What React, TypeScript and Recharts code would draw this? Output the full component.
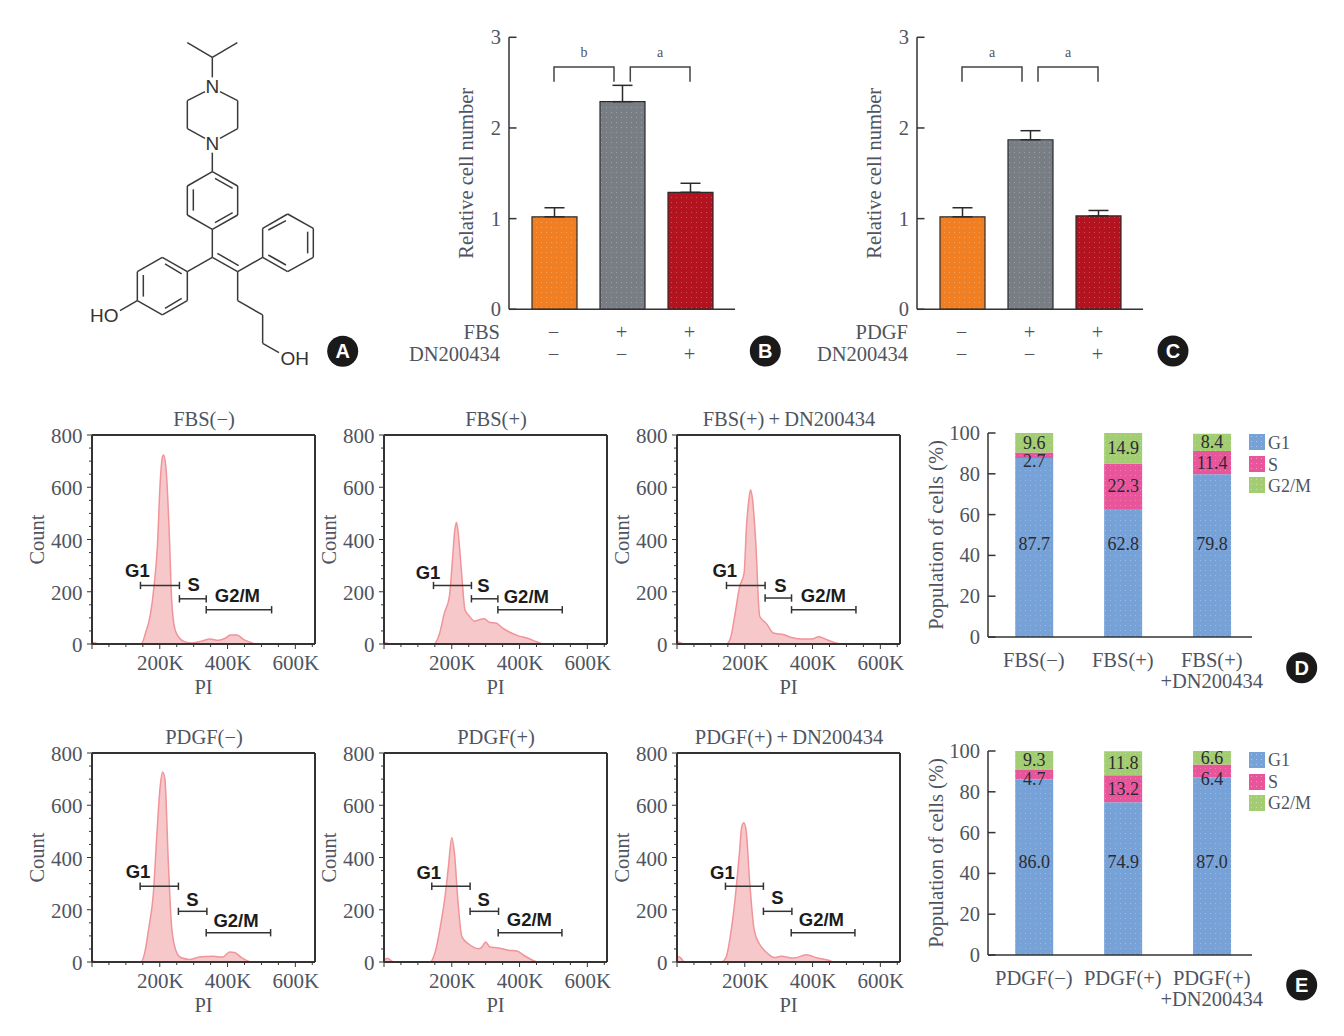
import { AreaChart, Area, BarChart, Bar, Cell, ErrorBar, LabelList, XAxis, YAxis, ReferenceLine, ReferenceDot } from 'recharts';

const SERIF = '"Liberation Serif", serif';
const SANS = '"Liberation Sans", sans-serif';
const TEXT = '#4f5460';
const AXIS = '#333333';

// Panels B and C
const treatments = ['ctrl', 'stim', 'stim+DN'];
const stimSigns = ['−', '+', '+'];
const drugSigns = ['−', '−', '+'];
const barColors = ['#ef7f22', '#797d84', '#b3131f'];
const fbsCellNumber = [1.02, 2.29, 1.29];
const fbsCellError = [0.1, 0.18, 0.1];
const pdgfCellNumber = [1.02, 1.87, 1.03];
const pdgfCellError = [0.1, 0.1, 0.06];

// Panels D and E
const fbsCategories = ['FBS(−)', 'FBS(+)', 'FBS(+)|+DN200434'];
const fbsG1 = [87.7, 62.8, 79.8];
const fbsS = [2.7, 22.3, 11.4];
const fbsG2M = [9.6, 14.9, 8.4];
const pdgfCategories = ['PDGF(−)', 'PDGF(+)', 'PDGF(+)|+DN200434'];
const pdgfG1 = [86.0, 74.9, 87.0];
const pdgfS = [4.7, 13.2, 6.4];
const pdgfG2M = [9.3, 11.8, 6.6];
const phaseColors = { G1: '#77a2d8', S: '#e9559b', G2M: '#a3cd72' };

// Flow histograms: [PI in thousands, count]
const histFbsNeg = [[0, 6], [10, 4], [20, 0], [145, 0], [158, 42], [173, 118], [183, 220], [193, 373], [201, 615], [208, 717], [211, 723], [218, 679], [228, 424], [235, 170], [245, 55], [258, 23], [273, 9], [293, 4], [323, 11], [348, 19], [373, 14], [393, 22], [408, 34], [428, 34], [448, 17], [473, 4], [483, 0], [658, 0]];
const histFbsPos = [[0, 6], [25, 0], [148, 0], [163, 36], [178, 118], [193, 182], [202, 322], [209, 437], [214, 465], [219, 424], [229, 271], [239, 131], [252, 106], [268, 87], [281, 93], [296, 97], [311, 83], [331, 80], [350, 61], [370, 46], [395, 32], [424, 22], [449, 9], [469, 0], [658, 0]];
const histFbsDn = [[0, 11], [22, 0], [145, 0], [158, 23], [170, 106], [185, 220], [198, 271], [205, 450], [212, 552], [217, 590], [223, 552], [232, 399], [244, 106], [264, 78], [284, 42], [313, 36], [338, 25], [372, 19], [397, 19], [419, 28], [441, 17], [471, 3], [486, 0], [658, 0]];
const histPdgfNeg = [[0, 4], [20, 0], [144, 0], [155, 32], [168, 134], [181, 261], [191, 478], [201, 670], [208, 727], [215, 702], [225, 389], [235, 134], [248, 42], [262, 17], [287, 10], [317, 19], [356, 22], [386, 19], [406, 38], [421, 36], [441, 17], [470, 0], [658, 0]];
const histPdgfPos = [[0, 6], [10, 14], [28, 0], [136, 0], [151, 38], [166, 134], [180, 249], [190, 364], [200, 476], [208, 415], [218, 236], [230, 96], [249, 70], [279, 51], [289, 57], [300, 77], [313, 57], [338, 54], [367, 45], [392, 42], [417, 22], [451, 1], [461, 0], [658, 0]];
const histPdgfDn = [[0, 22], [10, 17], [22, 0], [130, 0], [145, 19], [157, 96], [171, 236], [184, 415], [191, 517], [197, 533], [204, 504], [214, 313], [228, 121], [243, 70], [263, 38], [287, 17], [307, 22], [346, 15], [381, 28], [415, 15], [455, 3], [460, 0], [658, 0]];

// Gates: [name, from, to, level, label x, label y], all in axis units
type Gate = [string, number, number, number, number, number];
const gatesFbsNeg: Gate[] = [['G1', 143, 258, 224, 134, 282], ['S', 258, 337, 173, 300, 227], ['G2/M', 337, 530, 131, 429, 185]];
const gatesFbsPos: Gate[] = [['G1', 146, 258, 224, 130, 275], ['S', 258, 336, 173, 293, 223], ['G2/M', 336, 526, 131, 420, 180]];
const gatesFbsDn: Gate[] = [['G1', 146, 260, 224, 141, 282], ['S', 260, 338, 176, 305, 224], ['G2/M', 338, 528, 131, 432, 185]];
const gatesPdgfNeg: Gate[] = [['G1', 142, 255, 290, 136, 347], ['S', 255, 339, 194, 296, 241], ['G2/M', 337, 527, 112, 425, 159]];
const gatesPdgfPos: Gate[] = [['G1', 141, 254, 290, 132, 344], ['S', 254, 338, 194, 294, 240], ['G2/M', 337, 525, 112, 429, 163]];
const gatesPdgfDn: Gate[] = [['G1', 143, 255, 290, 134, 344], ['S', 255, 339, 194, 296, 247], ['G2/M', 337, 525, 112, 426, 163]];

const xMinor = [0, 50, 100, 150, 200, 250, 300, 350, 400, 450, 500, 550, 600, 650];
const yMinor = [0, 50, 100, 150, 200, 250, 300, 350, 400, 450, 500, 550, 600, 650, 700, 750, 800];

const FlowXTick = ({ x, y, payload }: any) => {
  const major = payload.value % 200 === 0;
  return (
    <g>
      <line x1={x} x2={x} y1={y} y2={y + (major ? 5 : 3)} stroke={AXIS} strokeWidth={1} />
      {major && payload.value > 0 && (
        <text x={x + 0.5} y={y + 19} textAnchor="middle" dominantBaseline="central" fontFamily={SERIF} fontSize={21} fill={TEXT}>
          {payload.value}K
        </text>
      )}
    </g>
  );
};

const FlowYTick = ({ x, y, payload }: any) => {
  const major = payload.value % 200 === 0;
  return (
    <g>
      <line x1={x} x2={x - (major ? 5 : 3)} y1={y} y2={y} stroke={AXIS} strokeWidth={1} />
      {major && (
        <text x={x - 9.5} y={y + 1.2} textAnchor="end" dominantBaseline="central" fontFamily={SERIF} fontSize={21} fill={TEXT}>
          {payload.value}
        </text>
      )}
    </g>
  );
};

const InnerYTick = ({ x, y, payload }: any) => (
  <g>
    <line x1={x} x2={x + 7.5} y1={y} y2={y} stroke={AXIS} strokeWidth={1.5} />
    <text x={x - 8} y={y} textAnchor="end" dominantBaseline="central" fontFamily={SERIF} fontSize={20.5} fill={TEXT}>
      {payload.value}
    </text>
  </g>
);

interface FlowProps {
  title: string;
  hist: number[][];
  gates: Gate[];
  left: number;
  top: number;
}

// one flow cytometry panel; left/top is the corner of the plot box on the page
function FlowPanel({ title, hist, gates, left, top }: FlowProps) {
  const data = hist.map(([pi, count]) => ({ pi, count }));
  return (
    <div style={{ position: 'absolute', left: left - 70, top: top - 30 }}>
      <AreaChart width={313} height={299} data={data} margin={{ top: 30, right: 20, left: 0, bottom: 0 }}>
        <text x={182} y={13.5} textAnchor="middle" dominantBaseline="central" fontFamily={SERIF} fontSize={20.5} fill={TEXT}>
          {title}
        </text>
        <XAxis
          dataKey="pi"
          type="number"
          domain={[0, 658]}
          ticks={xMinor}
          interval={0}
          height={60}
          tickLine={false}
          tickSize={0}
          tickMargin={0}
          tick={FlowXTick}
          axisLine={{ stroke: AXIS, strokeWidth: 2 }}
          label={{ value: 'PI', position: 'insideBottom', offset: 10, fontFamily: SERIF, fontSize: 20.5, fill: TEXT }}
        />
        <YAxis
          type="number"
          domain={[0, 800]}
          ticks={yMinor}
          interval={0}
          width={70}
          tickLine={false}
          tickSize={0}
          tickMargin={0}
          tick={FlowYTick}
          axisLine={{ stroke: AXIS, strokeWidth: 2 }}
          label={{ value: 'Count', angle: -90, position: 'insideLeft', dx: 10, textAnchor: 'middle', fontFamily: SERIF, fontSize: 20.5, fill: TEXT }}
        />
        <Area dataKey="count" type="monotone" stroke="#f0949a" strokeWidth={1.5} fill="#f7c8ca" fillOpacity={1} isAnimationActive={false} />
        <ReferenceLine y={800} stroke={AXIS} strokeWidth={2} />
        <ReferenceLine x={658} stroke={AXIS} strokeWidth={2} />
        {gates.flatMap(([name, from, to, level]) => [
          <ReferenceLine key={name + 'h'} segment={[{ x: from, y: level }, { x: to, y: level }]} stroke="#333" strokeWidth={1.5} />,
          <ReferenceLine key={name + 'a'} segment={[{ x: from, y: level - 14 }, { x: from, y: level + 14 }]} stroke="#333" strokeWidth={1.5} />,
          <ReferenceLine key={name + 'b'} segment={[{ x: to, y: level - 14 }, { x: to, y: level + 14 }]} stroke="#333" strokeWidth={1.5} />,
        ])}
        {gates.map(([name, , , , lx, ly]) => (
          <ReferenceDot
            key={name}
            x={lx}
            y={ly}
            r={0}
            shape={(p: any) => (
              <text x={p.cx} y={p.cy} textAnchor="middle" dominantBaseline="central" fontFamily={SANS} fontWeight={700} fontSize={18.5} fill="#1c1c1c">
                {name}
              </text>
            )}
          />
        ))}
      </AreaChart>
    </div>
  );
}

interface CellProps {
  stim: string;
  values: number[];
  errors: number[];
  left: number;
}

function CellNumberPanel({ stim, values, errors, left }: CellProps) {
  const data = treatments.map((name, i) => ({ name, value: values[i], err: [0, errors[i]] }));
  const SignTick = ({ x, y, index }: any) => (
    <g fontFamily={SERIF} fontSize={20.5} fill={TEXT} textAnchor="middle" dominantBaseline="central">
      <text x={x - 0.5} y={y + 22.5}>{stimSigns[index]}</text>
      <text x={x - 0.5} y={y + 44.5}>{drugSigns[index]}</text>
    </g>
  );
  return (
    <div style={{ position: 'absolute', left: left - 110, top: 20 }}>
      <BarChart width={336} height={350} data={data} margin={{ top: 17.3, right: 0, left: 0, bottom: 0 }}>
        <text x={101} y={312} textAnchor="end" dominantBaseline="central" fontFamily={SERIF} fontSize={20.5} fill={TEXT}>{stim}</text>
        <text x={101} y={334} textAnchor="end" dominantBaseline="central" fontFamily={SERIF} fontSize={20.5} fill={TEXT}>DN200434</text>
        <XAxis
          dataKey="name"
          padding={{ left: 11, right: 11 }}
          interval={0}
          height={60.7}
          tickLine={false}
          tickSize={0}
          tickMargin={0}
          tick={SignTick}
          axisLine={{ stroke: AXIS, strokeWidth: 1.5 }}
        />
        <YAxis
          type="number"
          domain={[0, 3]}
          ticks={[0, 1, 2, 3]}
          interval={0}
          width={110}
          tickLine={false}
          tickSize={0}
          tickMargin={0}
          tick={InnerYTick}
          axisLine={{ stroke: AXIS, strokeWidth: 1.5 }}
          label={{ value: 'Relative cell number', angle: -90, position: 'insideLeft', dx: 61.5, textAnchor: 'middle', fontFamily: SERIF, fontSize: 20.5, fill: TEXT }}
        />
        <Bar dataKey="value" barSize={45} stroke="#2a2a2a" strokeWidth={1.2} isAnimationActive={false}>
          {data.map((d, i) => (
            <Cell key={d.name} fill={`url(#dots-${barColors[i].slice(1)})`} />
          ))}
          <ErrorBar dataKey="err" direction="y" width={10} stroke="#2a2a2a" strokeWidth={1.5} isAnimationActive={false} />
        </Bar>
      </BarChart>
    </div>
  );
}

// G1 numbers sit at one height in every stack, thin S numbers hang just under the chart's top
const segmentLabel = (phase: 'G1' | 'S' | 'G2M') => (p: any) => {
  const { x, y, width, height, value } = p;
  let cy = y + height / 2;
  if (phase === 'G1') cy = y + height - 93;
  if (phase === 'S' && value < 8) cy = 48;
  return (
    <text x={x + width / 2} y={cy} textAnchor="middle" dominantBaseline="central" fontFamily={SERIF} fontSize={18} fill="#2b2b33">
      {Number(value).toFixed(1)}
    </text>
  );
};

interface PhaseProps {
  categories: string[];
  g1: number[];
  s: number[];
  g2m: number[];
  top: number;
}

function PhasePanel({ categories, g1, s, g2m, top }: PhaseProps) {
  const data = categories.map((name, i) => ({ name, g1: g1[i], s: s[i], g2m: g2m[i] }));
  const CategoryTick = ({ x, y, payload }: any) => {
    const lines = String(payload.value).split('|');
    return (
      <g fontFamily={SERIF} fontSize={20.5} fill={TEXT} textAnchor="middle" dominantBaseline="central">
        {lines.map((line, i) => (
          <text key={line} x={x - 0.8} y={y + 22.5 + i * 21.5}>{line}</text>
        ))}
      </g>
    );
  };
  return (
    <div style={{ position: 'absolute', left: 988.3 - 80, top: top - 20 }}>
      <BarChart width={384} height={290} data={data} margin={{ top: 20, right: 40, left: 0, bottom: 0 }}>
        <XAxis
          dataKey="name"
          padding={{ left: 2.2, right: -5 }}
          interval={0}
          height={66}
          tickLine={false}
          tickSize={0}
          tickMargin={0}
          tick={CategoryTick}
          axisLine={{ stroke: AXIS, strokeWidth: 1.5 }}
        />
        <YAxis
          type="number"
          domain={[0, 100]}
          ticks={[0, 20, 40, 60, 80, 100]}
          interval={0}
          width={80}
          tickLine={false}
          tickSize={0}
          tickMargin={0}
          tick={InnerYTick}
          axisLine={{ stroke: AXIS, strokeWidth: 1.5 }}
          label={{ value: 'Population of cells (%)', angle: -90, position: 'insideLeft', dx: 22.5, textAnchor: 'middle', fontFamily: SERIF, fontSize: 20.5, fill: TEXT }}
        />
        <Bar dataKey="g1" stackId="a" barSize={38} fill="url(#dots-77a2d8)" isAnimationActive={false}>
          <LabelList dataKey="g1" content={segmentLabel('G1')} />
        </Bar>
        <Bar dataKey="s" stackId="a" barSize={38} fill="url(#dots-e9559b)" isAnimationActive={false}>
          <LabelList dataKey="s" content={segmentLabel('S')} />
        </Bar>
        <Bar dataKey="g2m" stackId="a" barSize={38} fill="url(#dots-a3cd72)" isAnimationActive={false}>
          <LabelList dataKey="g2m" content={segmentLabel('G2M')} />
        </Bar>
      </BarChart>
    </div>
  );
}

function PhaseLegend({ top }: { top: number }) {
  const rows: [string, string, number][] = [
    ['G1', phaseColors.G1, 0],
    ['S', phaseColors.S, 22],
    ['G2/M', phaseColors.G2M, 43],
  ];
  return (
    <>
      {rows.map(([name, color, dy]) => (
        <div key={name} style={{ position: 'absolute', left: 1249, top: top + dy, display: 'flex', alignItems: 'center', height: 16 }}>
          <div
            style={{
              width: 16,
              height: 16,
              marginRight: 3,
              backgroundColor: color,
              backgroundImage: 'radial-gradient(circle, rgba(255,255,255,0.4) 0.6px, transparent 0.8px)',
              backgroundSize: '5px 5px',
            }}
          />
          <span style={{ fontFamily: SERIF, fontSize: 18, color: TEXT, position: 'relative', top: 1 }}>{name}</span>
        </div>
      ))}
    </>
  );
}

// page-level furniture: significance brackets, panel badges and the molecule
const bracketsB = [[554, 614, 'b'], [630.3, 690, 'a']] as const;
const bracketsC = [[962, 1022, 'a'], [1038, 1098, 'a']] as const;
const badges = [['A', 342.7, 351.3], ['B', 765.3, 351], ['C', 1173, 351], ['D', 1301.7, 667.7], ['E', 1301.7, 985]] as const;
const dotted = [...barColors, phaseColors.G1, phaseColors.S, phaseColors.G2M];

const bonds = [
  [322, 38, 397, 82], [472, 38, 397, 82], [397, 82, 397, 142],
  [375, 185, 322, 212], [322, 212, 322, 296], [322, 296, 375, 325],
  [420, 185, 473, 212], [473, 212, 473, 296], [473, 296, 420, 325],
  [397, 368, 397, 425],
  [397, 425, 473, 468], [473, 468, 473, 555], [473, 555, 397, 598], [397, 598, 322, 555], [322, 555, 322, 468], [322, 468, 397, 425],
  [405, 445, 458, 475], [340, 478, 340, 542], [405, 578, 458, 548],
  [397, 598, 397, 682], [397, 682, 473, 725], [412, 670, 476, 707], [397, 682, 322, 725],
  [322, 725, 322, 812], [322, 812, 247, 855], [247, 855, 172, 812], [172, 812, 172, 725], [172, 725, 247, 682], [247, 682, 322, 725],
  [255, 702, 305, 732], [190, 735, 190, 800], [255, 835, 305, 805],
  [172, 812, 120, 842],
  [473, 725, 548, 682],
  [548, 682, 548, 595], [548, 595, 623, 552], [623, 552, 700, 595], [700, 595, 700, 682], [700, 682, 623, 725], [623, 725, 548, 682],
  [565, 600, 618, 572], [683, 605, 683, 670], [565, 675, 618, 705],
  [473, 725, 473, 812], [473, 812, 548, 855], [548, 855, 548, 940], [548, 940, 597, 968],
];

function Overlay() {
  return (
    <svg width={1344} height={1036} style={{ position: 'absolute', left: 0, top: 0, pointerEvents: 'none' }}>
      <defs>
        {dotted.map((color) => (
          <pattern key={color} id={`dots-${color.slice(1)}`} width={5} height={5} patternUnits="userSpaceOnUse">
            <rect width={5} height={5} fill={color} />
            <circle cx={2.5} cy={2.5} r={0.5} fill="#fff" fillOpacity={0.35} />
          </pattern>
        ))}
      </defs>
      <g transform="translate(80,30) scale(0.3333)" fontFamily={SANS} fontSize={57} fill="#333" textAnchor="middle" dominantBaseline="central">
        {bonds.map(([a, b, c, d], i) => (
          <line key={i} x1={a} y1={b} x2={c} y2={d} stroke="#3a3a3a" strokeWidth={4.5} />
        ))}
        <text x={397} y={170}>N</text>
        <text x={397} y={342}>N</text>
        <text x={73} y={858}>HO</text>
        <text x={644} y={985}>OH</text>
      </g>
      {[...bracketsB, ...bracketsC].map(([a, b, label], i) => (
        <g key={i}>
          <path d={`M${a} 81.7V67H${b}V81.7`} fill="none" stroke="#444" strokeWidth={1.5} />
          <text x={(a + b) / 2} y={52} textAnchor="middle" dominantBaseline="central" fontFamily={SERIF} fontSize={14} fill={TEXT}>
            {label}
          </text>
        </g>
      ))}
      {badges.map(([letter, cx, cy]) => (
        <g key={letter}>
          <circle cx={cx} cy={cy} r={15.5} fill="#1a1a1a" />
          <text x={cx} y={cy} textAnchor="middle" dominantBaseline="central" fontFamily={SANS} fontWeight={700} fontSize={20} fill="#fff">
            {letter}
          </text>
        </g>
      ))}
    </svg>
  );
}

export default function App() {
  return (
    <div style={{ position: 'absolute', left: 0, top: 0, width: 1344, height: 1036, background: '#fff', overflow: 'hidden' }}>
      <CellNumberPanel stim="FBS" values={fbsCellNumber} errors={fbsCellError} left={509} />
      <CellNumberPanel stim="PDGF" values={pdgfCellNumber} errors={pdgfCellError} left={916.7} />

      <FlowPanel title="FBS(−)" hist={histFbsNeg} gates={gatesFbsNeg} left={92} top={435.3} />
      <FlowPanel title="FBS(+)" hist={histFbsPos} gates={gatesFbsPos} left={384} top={435.3} />
      <FlowPanel title={'FBS(+)\u2009+\u2009DN200434'} hist={histFbsDn} gates={gatesFbsDn} left={677} top={435.3} />
      <FlowPanel title="PDGF(−)" hist={histPdgfNeg} gates={gatesPdgfNeg} left={92} top={752.7} />
      <FlowPanel title="PDGF(+)" hist={histPdgfPos} gates={gatesPdgfPos} left={384} top={752.7} />
      <FlowPanel title={'PDGF(+)\u2009+\u2009DN200434'} hist={histPdgfDn} gates={gatesPdgfDn} left={677} top={752.7} />

      <PhasePanel categories={fbsCategories} g1={fbsG1} s={fbsS} g2m={fbsG2M} top={433.3} />
      <PhaseLegend top={434} />
      <PhasePanel categories={pdgfCategories} g1={pdgfG1} s={pdgfS} g2m={pdgfG2M} top={751} />
      <PhaseLegend top={751.5} />

      <Overlay />
    </div>
  );
}
